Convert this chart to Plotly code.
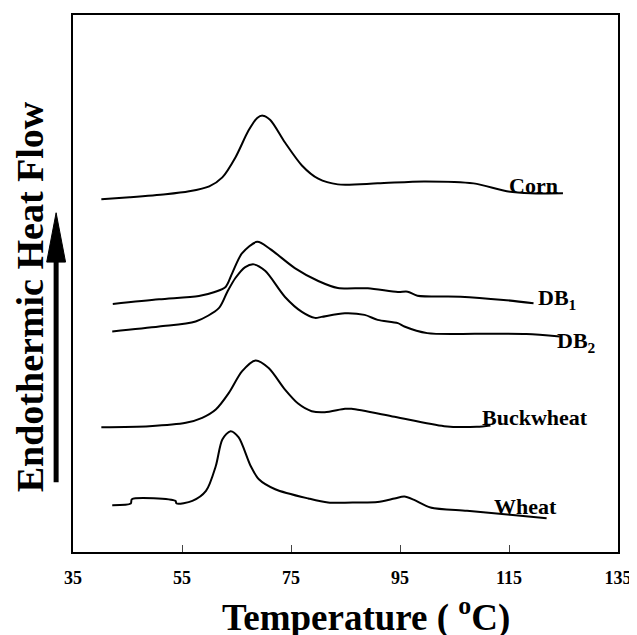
import plotly.graph_objects as go

# ---- data (temperature in °C, heat flow in arbitrary units) ----
corn_t = [40.2, 45.4, 52.0, 56.3, 60.0, 62.4, 64.8, 67.2, 68.8, 69.8, 71.2, 73.9, 77.0, 80.0, 83.6, 90.9, 99.4, 108.5, 114.6, 119.0, 124.9]
corn_y = [354, 356, 359, 362, 367, 376, 396, 423, 435.7, 438, 433.7, 411, 388, 374.7, 369, 370, 372, 370, 362, 360, 360]

db1_t = [42.3, 50.8, 58.1, 61.0, 63.0, 64.2, 66.0, 68.8, 71.2, 75.7, 80.0, 83.6, 89.1, 94.6, 96.4, 98.2, 106.1, 114.0, 119.5]
db1_y = [249, 253.7, 257, 261, 266, 279.7, 299.7, 311.3, 304, 285, 272, 265, 264.7, 261, 261.3, 257.3, 256.3, 253, 249.7]

db2_t = [42.2, 50.8, 57.5, 61.8, 63.3, 64.8, 66.6, 68.2, 70.3, 73.9, 77.0, 79.4, 80.6, 84.9, 88.5, 90.9, 94.6, 95.8, 100.0, 109.1, 118.2, 124.3]
db2_y = [221.3, 226.3, 231.3, 245, 261, 275, 286, 288.7, 282, 256, 241, 235, 236, 239.7, 238, 233, 229.7, 226.3, 219.7, 219, 218.7, 216.3]

buck_t = [40.2, 49.0, 55.7, 58.7, 61.2, 63.6, 66.0, 68.5, 70.9, 73.9, 76.3, 78.8, 81.2, 84.9, 86.1, 94.0, 103.1, 109.1, 111.6]
buck_y = [125.3, 126.3, 129.7, 134.7, 143, 159.7, 181.3, 192.3, 184.7, 163, 149, 141.3, 140.3, 143.7, 143.7, 135.7, 126.3, 125.7, 127]

wheat_t = [42.2, 45.6, 45.8, 53.8, 54.0, 56.9, 59.4, 61.2, 62.4, 63.9, 65.4, 67.6, 69.1, 72.1, 78.2, 81.8, 87.3, 90.9, 94.0, 95.8, 97.6, 100.6, 107.3, 115.2, 121.9]
wheat_y = [47, 48.7, 53, 51.3, 48.7, 51.3, 61.3, 86.3, 113, 121.3, 115, 86.3, 73, 63, 53.7, 49.7, 49.7, 50.3, 53.7, 55.7, 52.3, 44.7, 41.3, 37.3, 34]

series_names = ["Corn", "DB<sub>1</sub>", "DB<sub>2</sub>", "Buckwheat", "Wheat"]
label_x = [119.5, 123.8, 127.3, 119.7, 118.0]
label_y = [368, 254, 211, 135, 46]

tick_vals = [35, 55, 75, 95, 115, 135]
tick_text = ["35", "55", "75", "95", "115", "135"]

x_title = "Temperature ( <sup>o</sup>C)"
y_title = "Endothermic Heat Flow"

FONT = "Liberation Serif, Times New Roman, serif"

fig = go.Figure()
for t, y in [(corn_t, corn_y), (db1_t, db1_y), (db2_t, db2_y), (buck_t, buck_y), (wheat_t, wheat_y)]:
    fig.add_trace(go.Scatter(x=t, y=y, mode="lines",
                             line=dict(color="black", width=2, shape="spline", smoothing=0.8),
                             showlegend=False, hoverinfo="skip"))

for name, lx, ly in zip(series_names, label_x, label_y):
    fig.add_annotation(x=lx, y=ly, xref="x", yref="y", text=name, showarrow=False,
                       font=dict(family=FONT, size=22, color="black", weight="bold"),
                       xanchor="center", yanchor="middle")

# axis titles as annotations
fig.add_annotation(x=0.537, y=-0.118, xref="paper", yref="paper", text=x_title, showarrow=False,
                   font=dict(family=FONT, size=37, color="black", weight="bold"),
                   xanchor="center", yanchor="middle")
fig.add_annotation(x=-0.0783, y=0.475, xref="paper", yref="paper", text=y_title, showarrow=False,
                   textangle=-90,
                   font=dict(family=FONT, size=38, color="black", weight="bold"),
                   xanchor="center", yanchor="middle")

# arrow (pixel geometry converted to paper coords)
L, T, W, H = 73, 13, 549, 539
def px(x):
    return (x - L) / W
def py(y):
    return (T + H - y) / H

fig.add_shape(type="line", xref="paper", yref="paper",
              x0=px(56), x1=px(56), y0=py(482), y1=py(255),
              line=dict(color="black", width=5))
fig.add_shape(type="path", xref="paper", yref="paper",
              path=f"M {px(56)},{py(211.5)} L {px(46.5)},{py(261)} L {px(65.5)},{py(261)} Z",
              fillcolor="black", line=dict(color="black", width=1))

# the page body keeps an 8px margin, so the figure is offset by 8px
fig.update_layout(
    width=629, height=627,
    margin=dict(l=65, r=15, t=5, b=83),
    paper_bgcolor="white", plot_bgcolor="white",
    xaxis=dict(range=[35, 135], tickvals=tick_vals, ticktext=tick_text,
               ticks="inside", ticklen=7, tickwidth=1, tickcolor="#444",
               showline=True, linecolor="black", linewidth=2, mirror=True,
               showgrid=False, zeroline=False,
               tickfont=dict(family=FONT, size=18, color="black", weight="bold"),
               ticklabelstandoff=8),
    yaxis=dict(range=[0, 539], showticklabels=False, ticks="",
               showline=True, linecolor="black", linewidth=2, mirror=True,
               showgrid=False, zeroline=False),
)

fig.write_html("out.html", config={"displayModeBar": False})
